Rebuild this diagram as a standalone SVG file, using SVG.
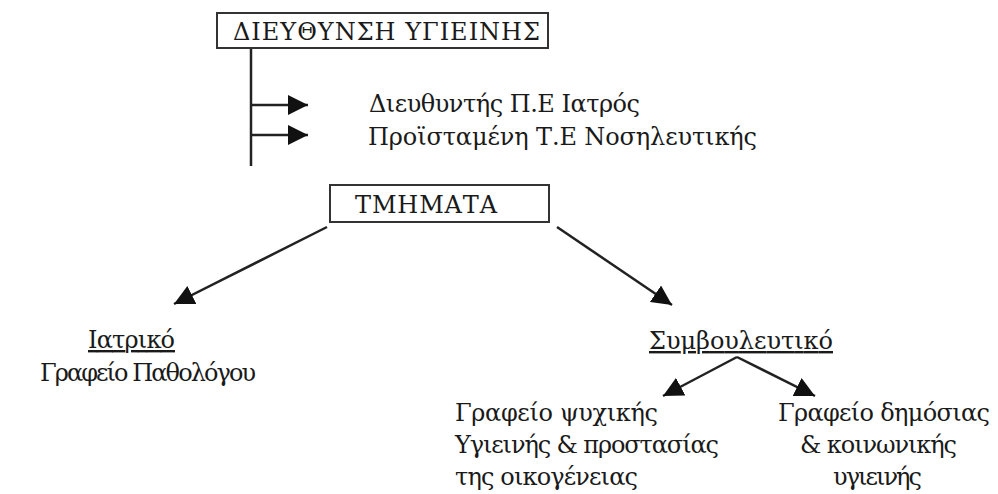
<svg xmlns="http://www.w3.org/2000/svg" width="998" height="494" viewBox="0 0 998 494">
<style>
.t{font-family:'DejaVu Serif',serif;font-size:24px;fill:#1a1a1a}
.box{fill:#fff;stroke:#333;stroke-width:2}
.ln{stroke:#222;stroke-width:2.5;fill:none}
.u{text-decoration:underline}
</style>
<defs>
<marker id="ah" viewBox="0 0 10 10" refX="10" refY="5" markerWidth="8" markerHeight="8" orient="auto">
<path d="M0,0 L10,5 L0,10 z" fill="#111"/>
</marker>
</defs>
<rect width="998" height="494" fill="#fff"/>
<g id="connectors">
<line class="ln" x1="251" y1="48" x2="251" y2="166"/>
<line class="ln" x1="251" y1="105" x2="308" y2="105" marker-end="url(#ah)"/>
<line class="ln" x1="251" y1="135" x2="308" y2="135" marker-end="url(#ah)"/>
<line class="ln" x1="327" y1="227" x2="174" y2="304" marker-end="url(#ah)"/>
<line class="ln" x1="557" y1="227" x2="672" y2="305" marker-end="url(#ah)"/>
<line class="ln" x1="737" y1="357" x2="663" y2="396" marker-end="url(#ah)"/>
<line class="ln" x1="737" y1="357" x2="815" y2="396" marker-end="url(#ah)"/>
</g>
<g id="n-dieuthynsi">
<rect class="box" x="217" y="13" width="331" height="35"/>
<text x="233" y="40" class="t" textLength="307">ΔΙΕΥΘΥΝΣΗ ΥΓΙΕΙΝΗΣ</text>
</g>
<g id="n-staff">
<text x="369" y="112" class="t" textLength="271">Διευθυντής Π.Ε Ιατρός</text>
<text x="368" y="145" class="t" textLength="389">Προϊσταμένη Τ.Ε Νοσηλευτικής</text>
</g>
<g id="n-tmimata">
<rect class="box" x="330" y="185" width="219" height="37"/>
<text x="355" y="213" class="t" textLength="142">ΤΜΗΜΑΤΑ</text>
</g>
<g id="n-iatriko">
<text x="88" y="348" class="t u" textLength="87">Ιατρικό</text>
<text x="40" y="381" class="t" textLength="216">Γραφείο Παθολόγου</text>
</g>
<g id="n-symvouleutiko">
<text x="649" y="349" class="t u" textLength="184">Συμβουλευτικό</text>
</g>
<g id="n-psychikis">
<text x="455" y="421" class="t" textLength="203">Γραφείο ψυχικής</text>
<text x="455" y="453" class="t" textLength="264">Υγιεινής &amp; προστασίας</text>
<text x="455" y="485" class="t" textLength="183">της οικογένειας</text>
</g>
<g id="n-dimosias">
<text x="778" y="421" class="t" textLength="212">Γραφείο δημόσιας</text>
<text x="800" y="453" class="t" textLength="157">&amp; κοινωνικής</text>
<text x="833" y="485" class="t" textLength="89">υγιεινής</text>
</g>
</svg>
